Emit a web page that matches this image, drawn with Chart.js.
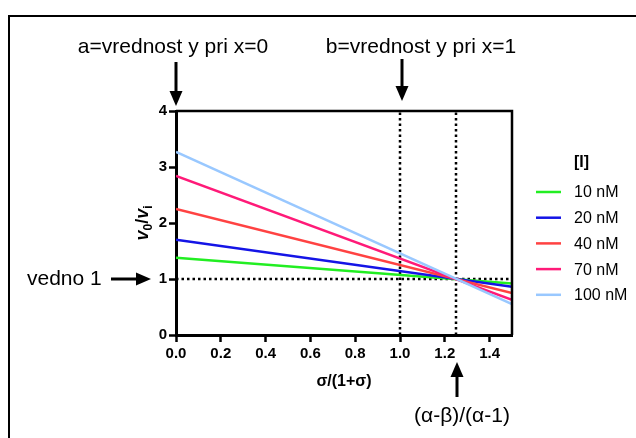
<!DOCTYPE html>
<html>
<head>
<meta charset="utf-8">
<script src="https://cdn.jsdelivr.net/npm/chart.js@4"></script>
<style>
  html, body { margin: 0; padding: 0; background: #fff; }
  #wrap { width: 636px; height: 438px; position: relative; }
</style>
</head>
<body>
<div id="wrap"><canvas id="chart"></canvas></div>
<script>
// Data
const xValues = [0, 1.5];
const labels = ['10 nM', '20 nM', '40 nM', '70 nM', '100 nM'];
const s10 = [1.38, 0.92];
const s20 = [1.70, 0.86];
const s40 = [2.25, 0.75];
const s70 = [2.84, 0.63];
const s100 = [3.27, 0.55];
const colors = ['#22ee22', '#1414e6', '#ff4242', '#ff1a78', '#99c8ff'];

const xTicks = [0, 0.2, 0.4, 0.6, 0.8, 1.0, 1.2, 1.4];
const yTicks = [0, 1, 2, 3, 4];

// reference (dotted) lines
const refX = [1.0, 1.25];
const refY = 1;

const FONT = '"Liberation Sans", Arial, sans-serif';

const series = [s10, s20, s40, s70, s100];
const lineSets = series.map((s, i) => ({
  label: labels[i],
  data: xValues.map((x, j) => ({ x: x, y: s[j] })),
  borderColor: colors[i],
  borderWidth: 2.5,
  pointRadius: 0,
  order: 5 - i
}));

const dotted = {
  borderColor: '#000',
  borderWidth: 2.5,
  borderDash: [2.5, 3],
  pointRadius: 0,
  order: 10
};
const refSets = [
  Object.assign({ label: 'ref', data: [{ x: 0, y: refY }, { x: 1.5, y: refY }] }, dotted),
  Object.assign({ label: 'ref', data: [{ x: refX[0], y: 0 }, { x: refX[0], y: 4 }] }, dotted),
  Object.assign({ label: 'ref', data: [{ x: refX[1], y: 0 }, { x: refX[1], y: 4 }] }, dotted)
];

function arrow(ctx, x1, y1, x2, y2) {
  const ang = Math.atan2(y2 - y1, x2 - x1);
  const head = 15, half = 6.5;
  ctx.save();
  ctx.strokeStyle = '#000';
  ctx.fillStyle = '#000';
  ctx.lineWidth = 3;
  ctx.beginPath();
  ctx.moveTo(x1, y1);
  ctx.lineTo(x2 - head * Math.cos(ang), y2 - head * Math.sin(ang));
  ctx.stroke();
  ctx.beginPath();
  ctx.moveTo(x2, y2);
  ctx.lineTo(x2 - head * Math.cos(ang) - half * Math.sin(ang), y2 - head * Math.sin(ang) + half * Math.cos(ang));
  ctx.lineTo(x2 - head * Math.cos(ang) + half * Math.sin(ang), y2 - head * Math.sin(ang) - half * Math.cos(ang));
  ctx.closePath();
  ctx.fill();
  ctx.restore();
}

const decor = {
  id: 'decor',
  afterDraw(chart) {
    const ctx = chart.ctx;
    const a = chart.chartArea;
    const xs = chart.scales.x, ys = chart.scales.y;
    ctx.save();
    // outer frame
    ctx.strokeStyle = '#000';
    ctx.lineWidth = 2;
    ctx.strokeRect(9, 16, 700, 500);
    // plot box top/right
    ctx.lineWidth = 2.5;
    ctx.beginPath();
    ctx.moveTo(a.left, a.top);
    ctx.lineTo(a.right, a.top);
    ctx.lineTo(a.right, a.bottom);
    ctx.stroke();

    // annotations
    ctx.fillStyle = '#000';
    ctx.font = '21px ' + FONT;
    ctx.textBaseline = 'middle';
    ctx.textAlign = 'center';
    const x0 = xs.getPixelForValue(0);
    const x1 = xs.getPixelForValue(refX[0]);
    const x2 = xs.getPixelForValue(refX[1]);
    const y1 = ys.getPixelForValue(refY);
    ctx.fillText('a=vrednost y pri x=0', x0 - 3, 47);
    arrow(ctx, x0, 62, x0, 106);
    ctx.fillText('b=vrednost y pri x=1', x1 + 21, 47);
    arrow(ctx, x1 + 2, 59, x1 + 2, 101);
    ctx.textAlign = 'left';
    ctx.fillText('vedno 1', 27, y1);
    arrow(ctx, 111, y1, 151, y1);
    ctx.textAlign = 'center';
    arrow(ctx, x2 + 1, 397, x2 + 1, 362);
    ctx.fillText('(\u03B1-\u03B2)/(\u03B1-1)', x2 + 6, 416);

    // axis titles
    ctx.font = 'bold 16px ' + FONT;
    ctx.fillText('\u03C3/(1+\u03C3)', (a.left + a.right) / 2, 382);

    ctx.save();
    ctx.translate(148, (a.top + a.bottom) / 2);
    ctx.rotate(-Math.PI / 2);
    ctx.textAlign = 'left';
    ctx.textBaseline = 'alphabetic';
    const parts = [
      ['italic bold 18px ', 'v', 0],
      ['bold 12px ', '0', 4],
      ['bold 18px ', '/', 0],
      ['italic bold 18px ', 'v', 0],
      ['bold 12px ', 'i', 4]
    ];
    let w = 0;
    parts.forEach(p => { ctx.font = p[0] + FONT; w += ctx.measureText(p[1]).width; });
    let cx = -w / 2;
    parts.forEach(p => {
      ctx.font = p[0] + FONT;
      ctx.fillText(p[1], cx, p[2]);
      cx += ctx.measureText(p[1]).width;
    });
    ctx.restore();

    // legend
    ctx.textAlign = 'left';
    ctx.textBaseline = 'middle';
    ctx.font = 'bold 16px ' + FONT;
    ctx.fillText('[I]', 574, 163);
    ctx.font = '16px ' + FONT;
    labels.forEach((lab, i) => {
      const y = 192 + i * 25.7;
      ctx.strokeStyle = colors[i];
      ctx.lineWidth = 2.5;
      ctx.beginPath();
      ctx.moveTo(536, y);
      ctx.lineTo(561, y);
      ctx.stroke();
      ctx.fillStyle = '#000';
      ctx.fillText(lab, 574, y + 1);
    });
    ctx.restore();
  }
};

new Chart(document.getElementById('chart'), {
  type: 'line',
  data: { datasets: refSets.concat(lineSets) },
  options: {
    responsive: true,
    maintainAspectRatio: false,
    animation: false,
    layout: { padding: { left: 136, top: 111, right: 124, bottom: 63 } },
    plugins: { legend: { display: false }, tooltip: { enabled: false } },
    scales: {
      x: {
        type: 'linear',
        min: 0,
        max: 1.5,
        afterFit: s => { s.height = 40; },
        afterBuildTicks: s => { s.ticks = xTicks.map(v => ({ value: v })); },
        grid: { drawOnChartArea: false, drawTicks: true, tickLength: 7, tickWidth: 2.5, tickColor: '#000' },
        border: { display: true, color: '#000', width: 3 },
        ticks: {
          color: '#000',
          padding: 3,
          maxRotation: 0,
          font: { family: FONT, size: 15, weight: 'bold' },
          callback: v => Number(v).toFixed(1)
        }
      },
      y: {
        type: 'linear',
        min: 0,
        max: 4,
        afterFit: s => { s.width = 40; },
        afterBuildTicks: s => { s.ticks = yTicks.map(v => ({ value: v })); },
        grid: { drawOnChartArea: false, drawTicks: true, tickLength: 7, tickWidth: 2.5, tickColor: '#000' },
        border: { display: true, color: '#000', width: 3 },
        ticks: {
          color: '#000',
          padding: 2,
          font: { family: FONT, size: 15, weight: 'bold' }
        }
      }
    }
  },
  plugins: [decor]
});
</script>
</body>
</html>
